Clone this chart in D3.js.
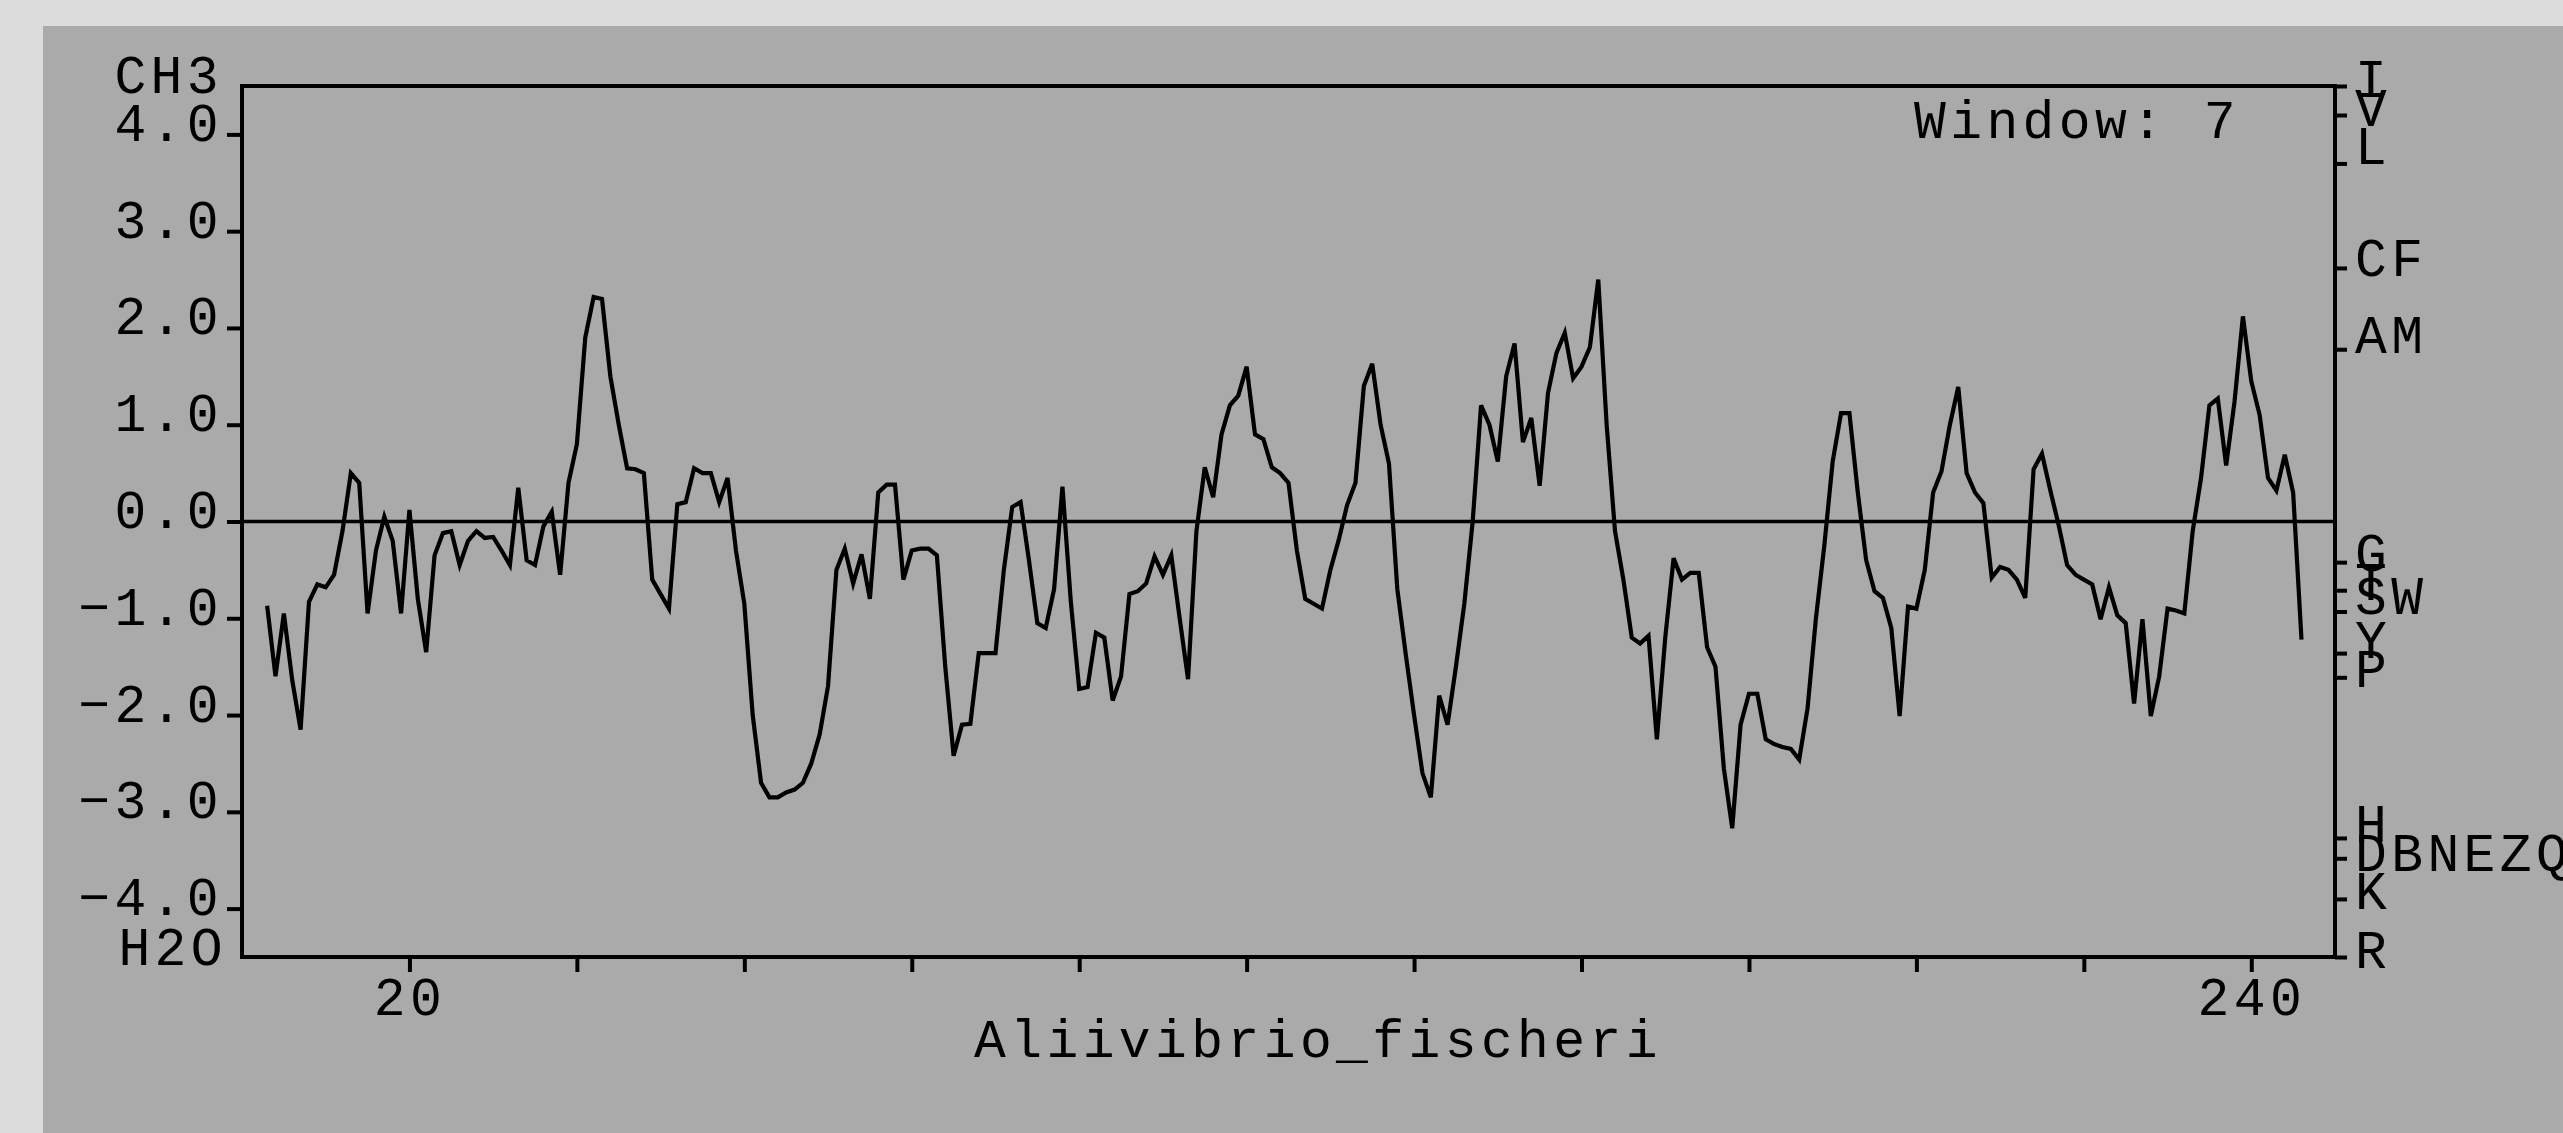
<!DOCTYPE html>
<html>
<head>
<meta charset="utf-8">
<title>Hydropathy - Aliivibrio_fischeri</title>
<script src="https://d3js.org/d3.v7.min.js"></script>
<style>
  html, body { margin: 0; padding: 0; background: #dcdcdc; overflow: hidden; }
  svg { display: block; }
  text {
    font-family: "Liberation Mono", "DejaVu Sans Mono", monospace;
    font-size: 53px;
    letter-spacing: 4.4px;
    fill: #000;
  }
</style>
</head>
<body>
<svg id="chart" width="2563" height="1133"></svg>
<script>
// window-averaged hydropathy, one value per residue position (first = startPos)
var startPos = 3;
var hydropathy = [
  -0.87, -1.6, -0.95, -1.64, -2.15, -0.83, -0.65, -0.68, -0.55, -0.1,
   0.5, 0.4, -0.95, -0.3, 0.05, -0.2, -0.95, 0.12, -0.8, -1.35,
  -0.35, -0.12, -0.1, -0.45, -0.2, -0.1, -0.17, -0.16, -0.3, -0.45,
   0.35, -0.4, -0.45, -0.05, 0.1, -0.55, 0.4, 0.8, 1.9, 2.32,
   2.3, 1.5, 1.0, 0.55, 0.54, 0.5, -0.6, -0.75, -0.9, 0.18,
   0.2, 0.55, 0.5, 0.5, 0.2, 0.45, -0.3, -0.85, -2.0, -2.7,
  -2.85, -2.85, -2.8, -2.77, -2.7, -2.5, -2.2, -1.7, -0.5, -0.28,
  -0.64, -0.34, -0.8, 0.3, 0.38, 0.38, -0.6, -0.3, -0.28, -0.28,
  -0.35, -1.5, -2.42, -2.1, -2.09, -1.36, -1.36, -1.36, -0.5, 0.15,
   0.2, -0.4, -1.05, -1.1, -0.7, 0.36, -0.83, -1.73, -1.71, -1.15,
  -1.2, -1.85, -1.6, -0.75, -0.72, -0.64, -0.36, -0.55, -0.35, -1.0,
  -1.63, -0.1, 0.56, 0.25, 0.9, 1.2, 1.3, 1.6, 0.9, 0.85,
   0.56, 0.5, 0.4, -0.3, -0.8, -0.85, -0.9, -0.5, -0.19, 0.17,
   0.4, 1.4, 1.63, 1.0, 0.6, -0.7, -1.37, -2.0, -2.6, -2.85,
  -1.8, -2.1, -1.5, -0.85, 0.0, 1.2, 1.0, 0.62, 1.5, 1.84,
   0.82, 1.07, 0.37, 1.33, 1.74, 1.95, 1.48, 1.6, 1.8, 2.5,
   1.0, -0.1, -0.6, -1.2, -1.26, -1.18, -2.25, -1.2, -0.38, -0.6,
  -0.53, -0.53, -1.3, -1.5, -2.55, -3.17, -2.1, -1.78, -1.78, -2.25,
  -2.3, -2.33, -2.35, -2.46, -1.93, -1.0, -0.25, 0.62, 1.12, 1.12,
   0.3, -0.4, -0.72, -0.79, -1.1, -2.01, -0.88, -0.9, -0.5, 0.3,
   0.52, 1.0, 1.39, 0.5, 0.3, 0.19, -0.58, -0.47, -0.5, -0.6,
  -0.79, 0.54, 0.7, 0.32, -0.04, -0.45, -0.55, -0.6, -0.65, -1.01,
  -0.68, -0.97, -1.05, -1.88, -1.01, -2.01, -1.6, -0.9, -0.92, -0.95,
  -0.1, 0.45, 1.2, 1.27, 0.58, 1.24, 2.12, 1.45, 1.1, 0.45,
   0.32, 0.69, 0.3, -1.22
];

var yTicks = [-4, -3, -2, -1, 0, 1, 2, 3, 4];
var xTicks = [20, 40, 60, 80, 100, 120, 140, 160, 180, 200, 220, 240];
var xLabelled = [20, 240];

// residue scale on the right
var rightTicks = [4.5, 4.2, 3.7, 2.62, 1.78, -0.42, -0.71, -0.93, -1.36, -1.61, -3.27, -3.48, -3.9, -4.5];
var residueLabels = ["I", "V", "L", "CF", "AM", "G", "T", "SW", "Y", "P", "H", "DBNEZQ", "K", "R"];
var residueValues = [4.5, 4.2, 3.8, 2.65, 1.85, -0.4, -0.7, -0.85, -1.3, -1.6, -3.2, -3.5, -3.9, -4.5];

var seqName = "Aliivibrio_fischeri";
var windowSize = 7;

var svg = d3.select("#chart");
var W = 2563, H = 1133;
var plotL = 242, plotR = 2335, plotT = 86, plotB = 957;

var x = d3.scaleLinear().domain([0, 250]).range([plotL, plotR]);
var y = d3.scaleLinear().domain([-4.5, 4.5]).range([plotB, plotT]);

// background panel
svg.append("rect")
  .attr("x", 43).attr("y", 26)
  .attr("width", W - 43).attr("height", H - 26)
  .attr("fill", "#aaaaaa");

// left axis
var gl = svg.append("g")
  .attr("transform", "translate(" + plotL + ",0)")
  .call(d3.axisLeft(y).tickValues(yTicks).tickSize(15).tickPadding(4).tickFormat(d3.format(".1f")));
gl.select(".domain").remove();
gl.selectAll("text").attr("y", -11);

// right axis
var gr = svg.append("g")
  .attr("transform", "translate(" + plotR + ",0)")
  .call(d3.axisRight(y).tickValues(rightTicks).tickSize(12).tickFormat(""));
gr.select(".domain").remove();

// bottom axis
var gb = svg.append("g")
  .attr("transform", "translate(0," + plotB + ")")
  .call(d3.axisBottom(x).tickValues(xTicks).tickSize(15).tickPadding(5)
    .tickFormat(function (d) { return xLabelled.indexOf(d) >= 0 ? d : ""; }));
gb.select(".domain").remove();

svg.selectAll(".tick line").attr("stroke", "#000").attr("stroke-width", 4);

// zero line
svg.append("line")
  .attr("x1", plotL).attr("x2", plotR)
  .attr("y1", y(0)).attr("y2", y(0))
  .attr("stroke", "#000").attr("stroke-width", 3.5);

// hydropathy curve
var line = d3.line()
  .x(function (d, i) { return x(startPos + i); })
  .y(function (d) { return y(d); });

svg.append("path")
  .datum(hydropathy)
  .attr("d", line)
  .attr("fill", "none")
  .attr("stroke", "#000")
  .attr("stroke-width", 4.2)
  .attr("stroke-linejoin", "miter");

// frame
svg.append("rect")
  .attr("x", plotL).attr("y", plotT)
  .attr("width", plotR - plotL).attr("height", plotB - plotT)
  .attr("fill", "none")
  .attr("stroke", "#000")
  .attr("stroke-width", 4);

// residue letters
svg.append("g").selectAll("text")
  .data(residueLabels)
  .join("text")
  .attr("x", plotR + 20)
  .attr("y", function (d, i) { return y(residueValues[i]) + 10.5; })
  .text(function (d) { return d; });

// end labels of the left scale
svg.append("text")
  .attr("x", plotL - 19).attr("y", plotT + 7)
  .attr("text-anchor", "end")
  .text("CH3");
svg.append("text")
  .attr("x", plotL - 15).attr("y", plotB + 8)
  .attr("text-anchor", "end")
  .text("H2O");

// x title
svg.append("text")
  .attr("x", 1318).attr("y", 1057)
  .attr("text-anchor", "middle")
  .text(seqName);

// window size
svg.append("text")
  .attr("x", 1914).attr("y", 138)
  .text("Window: " + windowSize);
</script>
</body>
</html>
